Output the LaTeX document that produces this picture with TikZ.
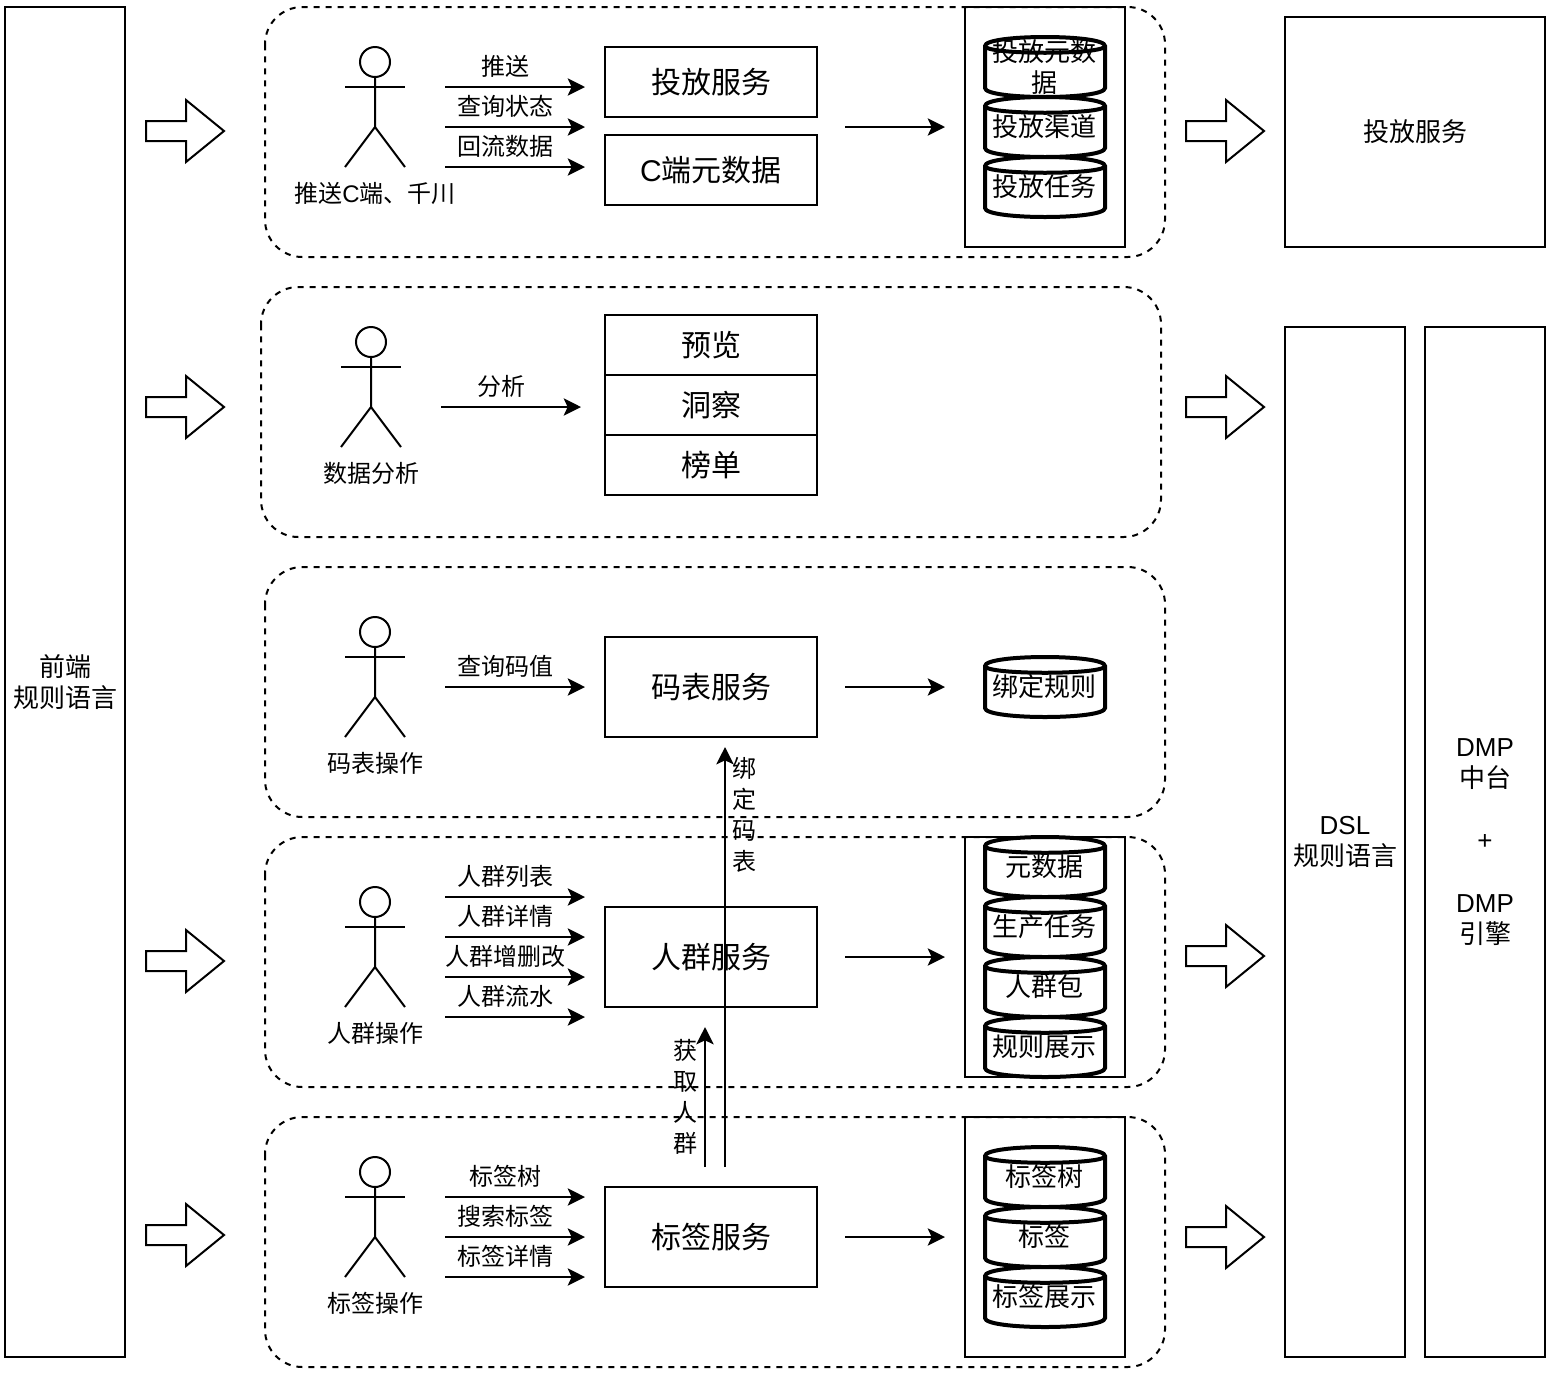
\documentclass[tikz,border=0pt]{standalone}
\usepackage{fontspec}
\setmainfont{Noto Sans CJK SC}
\newfontfamily\lat{Liberation Sans}
\usetikzlibrary{arrows.meta}
\tikzset{
  line/.style={line width=1.5pt},
  wide/.style={line width=3pt},
  flow/.style={line,-{Stealth[length=13pt,width=13pt,inset=3pt]}},
  group/.style={line,dash pattern=on 4.5pt off 4.5pt,rounded corners=28pt},
  panel/.style={line},
  fatarrow/.style={line,fill=white},
  sized/.style 2 args={draw,line,inner sep=0pt,outer sep=0pt,align=center,minimum width=#1*.75pt,minimum height=#2*.75pt},
  small/.style={font=\fontsize{18}{23.3}\selectfont,inner sep=0pt,align=center},
  mid/.style={font=\fontsize{19.5}{23.3}\selectfont,inner sep=0pt,align=center},
  big/.style={font=\fontsize{22.5}{28}\selectfont},
  actorhead/.style={draw,line,circle,inner sep=0pt,outer sep=0pt,minimum size=30*.75pt}
}
\begin{document}
\begin{tikzpicture}[x=.75pt,y=-.75pt]
\useasboundingbox (0,0) rectangle (1552,1372);

\draw[group] (265,7) rectangle (1165,257);
\draw[group] (261,287) rectangle (1161,537);
\draw[group] (265,567) rectangle (1165,817);
\draw[group] (265,837) rectangle (1165,1087);
\draw[group] (265,1117) rectangle (1165,1367);

\draw[panel] (965,7) rectangle (1125,247);
\draw[panel] (965,837) rectangle (1125,1077);
\draw[panel] (965,1117) rectangle (1125,1357);

\node[sized={120}{1350},mid] (front) at (65,682) {前端\\规则语言};
\node[sized={260}{230},mid] (deliver) at (1415,132) {投放服务};
\node[sized={120}{1030},mid] (dsl) at (1345,842) {{\lat DSL}\\规则语言};
\node[sized={120}{1030},mid] (dmp) at (1485,842) {{\lat DMP}\\中台\\~\\{\lat +}\\~\\{\lat DMP}\\引擎};

\foreach \n/\y/\h/\t in {tf/82/70/投放服务,meta/170/70/{{\lat C}端元数据},yl/345/60/预览,dc/405/60/洞察,bd/465/60/榜单,mb/687/100/码表服务,rq/957/100/人群服务,bq/1237/100/标签服务}
{
    \node[sized={212}{\h},big] (\n) at (711,\y) {\t};
}

% actors
\foreach \i/\x/\y/\t in {a/375/47/{推送{\lat C}端、千川},b/371/327/数据分析,c/375/617/码表操作,d/375/887/人群操作,e/375/1157/标签操作}
{
    \node[actorhead] (head\i) at (\x,\y+15) {};
    \coordinate (hip\i) at (\x,\y+80);
    \draw[line] (head\i) -- (hip\i) -- +(-30,40);
    \draw[line] (hip\i) -- +(30,40);
    \draw[line] (\x-30,\y+40) -- (\x+30,\y+40);
    \node[small] (name\i) at (\x,\y+146) {\t};
}

% requests
\foreach \i/\x/\y/\t in {1/445/87/推送,2/445/127/查询状态,3/445/167/回流数据,4/441/407/分析,5/445/687/查询码值,6/445/897/人群列表,7/445/937/人群详情,8/445/977/人群增删改,9/445/1017/人群流水,10/445/1197/标签树,11/445/1237/搜索标签,12/445/1277/标签详情}
{
    \coordinate (s\i) at (\x,\y);
    \coordinate (t\i) at (\x+140,\y);
    \draw[flow] (s\i) -- (t\i);
    \node[small] (req\i) at (\x+60,\y-21) {\t};
}

\foreach \i/\y in {1/127,2/687,3/957,4/1237}
{
    \coordinate (from\i) at (845,\y);
    \coordinate (to\i) at (945,\y);
    \draw[flow] (from\i) -- (to\i);
}

% databases
\foreach \i/\y/\t in {1/67/{投放元数\\据},2/127/投放渠道,3/187/投放任务,4/687/绑定规则,5/867/元数据,6/927/生产任务,7/987/人群包,8/1047/规则展示,9/1177/标签树,10/1237/标签,11/1297/标签展示}
{
    \draw[wide,fill=white] (985,\y-21) .. controls (985,\y-33) and (1105,\y-33) .. (1105,\y-21)
        -- (1105,\y+21) .. controls (1105,\y+33) and (985,\y+33) .. (985,\y+21) -- cycle;
    \draw[wide] (985,\y-21) .. controls (985,\y-12) and (1105,\y-12) .. (1105,\y-21);
    \node[mid] (db\i) at (1044,\y) {\t};
}

\foreach \x/\y in {146/131,146/407,146/961,146/1235,1186/131,1186/407,1186/956,1186/1237}
{
    \draw[fatarrow] (\x,\y-10) -- (\x+40,\y-10) -- (\x+40,\y-31) -- (\x+78,\y)
        -- (\x+40,\y+31) -- (\x+40,\y+10) -- (\x,\y+10) -- cycle;
}

\coordinate (upa) at (725,1167);
\coordinate (upb) at (725,747);
\coordinate (upc) at (705,1167);
\coordinate (upd) at (705,1027);
\draw[flow] (upa) -- (upb);
\draw[flow] (upc) -- (upd);
\node[small] (bind) at (744,815) {绑\\定\\码\\表};
\node[small] (fetch) at (685,1097) {获\\取\\人\\群};

\end{tikzpicture}
\end{document}
